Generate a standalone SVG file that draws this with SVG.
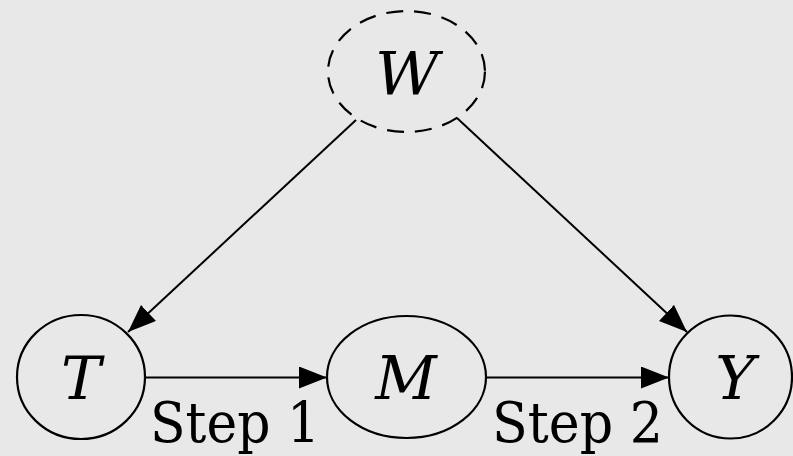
<svg xmlns="http://www.w3.org/2000/svg" width="793" height="456" viewBox="0 0 793 456">
<defs>
<marker id="arr" markerUnits="userSpaceOnUse" markerWidth="30" markerHeight="24" refX="28" refY="11" orient="auto">
<path d="M0,0 L28,11 L0,22 z" fill="#000"/>
</marker>
<style>
.node{fill:none;stroke:#000;stroke-width:2.2}
.dash{stroke-dasharray:17 11}
.lbl{font-family:"DejaVu Serif",serif;font-style:italic;font-size:60px;text-anchor:middle;fill:#000}
.edge{stroke:#000;stroke-width:2;fill:none;marker-end:url(#arr)}
.step{font-family:"DejaVu Serif",serif;font-size:56px;fill:#000}
</style>
</defs>
<rect width="793" height="456" fill="#e8e8e8"/>
<g id="connectors">
<line class="edge" x1="356" y1="120" x2="128" y2="332"/>
<line class="edge" x1="457" y1="118" x2="687" y2="332"/>
<line class="edge" x1="145" y1="377.5" x2="327" y2="377.5"/>
<line class="edge" x1="486" y1="377.5" x2="669" y2="377.5"/>
<text class="step" x="150" y="442" textLength="170" lengthAdjust="spacingAndGlyphs">Step 1</text>
<text class="step" x="492" y="442" textLength="171" lengthAdjust="spacingAndGlyphs">Step 2</text>
</g>
<g id="W">
<ellipse class="node dash" cx="406.5" cy="71.5" rx="78.5" ry="60.5"/>
<text class="lbl" x="407" y="95" textLength="64" lengthAdjust="spacingAndGlyphs">W</text>
</g>
<g id="T">
<ellipse class="node" cx="81" cy="377" rx="64" ry="62"/>
<text class="lbl" x="81" y="399">T</text>
</g>
<g id="M">
<ellipse class="node" cx="406.5" cy="377" rx="79.5" ry="61"/>
<text class="lbl" x="406" y="399">M</text>
</g>
<g id="Y">
<ellipse class="node" cx="730.5" cy="377" rx="61.5" ry="61.5"/>
<text class="lbl" x="735" y="399">Y</text>
</g>
</svg>
